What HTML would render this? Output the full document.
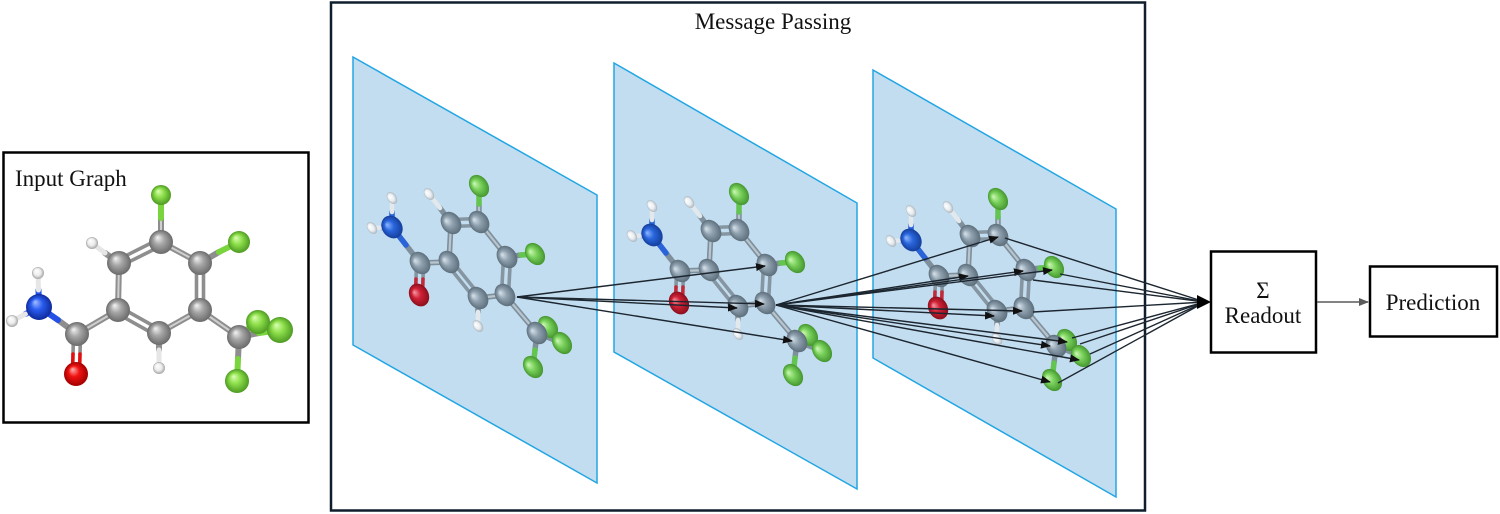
<!DOCTYPE html>
<html><head><meta charset="utf-8"><style>
html,body{margin:0;padding:0;background:#fff;}
svg{display:block;}
text{font-family:"Liberation Serif","Times New Roman",serif;fill:#111;}
</style></head><body>
<svg width="1500" height="514" viewBox="0 0 1500 514" xmlns="http://www.w3.org/2000/svg">
<defs>
<radialGradient id="gC" cx="50%" cy="50%" r="50%" fx="35%" fy="30%"><stop offset="0" stop-color="#f4f4f4"/><stop offset="0.45" stop-color="#a6a6a6"/><stop offset="1" stop-color="#6a6a6a"/></radialGradient>
<radialGradient id="gF" cx="50%" cy="50%" r="50%" fx="35%" fy="30%"><stop offset="0" stop-color="#dcffb8"/><stop offset="0.45" stop-color="#8fe04c"/><stop offset="1" stop-color="#4d9a22"/></radialGradient>
<radialGradient id="gN" cx="50%" cy="50%" r="50%" fx="35%" fy="30%"><stop offset="0" stop-color="#a4c0ff"/><stop offset="0.45" stop-color="#2a5cf0"/><stop offset="1" stop-color="#0e2a9a"/></radialGradient>
<radialGradient id="gO" cx="50%" cy="50%" r="50%" fx="35%" fy="30%"><stop offset="0" stop-color="#ffb4b4"/><stop offset="0.45" stop-color="#f01212"/><stop offset="1" stop-color="#a00000"/></radialGradient>
<radialGradient id="gH" cx="50%" cy="50%" r="50%" fx="35%" fy="30%"><stop offset="0" stop-color="#ffffff"/><stop offset="0.6" stop-color="#ececec"/><stop offset="1" stop-color="#a4a4a4"/></radialGradient>

<radialGradient id="pC" cx="50%" cy="50%" r="50%" fx="35%" fy="30%"><stop offset="0" stop-color="#d8e3eb"/><stop offset="0.45" stop-color="#8fa1af"/><stop offset="1" stop-color="#5d6e7b"/></radialGradient>
<radialGradient id="pF" cx="50%" cy="50%" r="50%" fx="35%" fy="30%"><stop offset="0" stop-color="#cff7b8"/><stop offset="0.45" stop-color="#7ad25c"/><stop offset="1" stop-color="#44962f"/></radialGradient>
<radialGradient id="pN" cx="50%" cy="50%" r="50%" fx="35%" fy="30%"><stop offset="0" stop-color="#8fb8ff"/><stop offset="0.45" stop-color="#2a66dd"/><stop offset="1" stop-color="#143e9a"/></radialGradient>
<radialGradient id="pO" cx="50%" cy="50%" r="50%" fx="35%" fy="30%"><stop offset="0" stop-color="#f59aa5"/><stop offset="0.45" stop-color="#d02035"/><stop offset="1" stop-color="#8a0f1c"/></radialGradient>
<radialGradient id="pH" cx="50%" cy="50%" r="50%" fx="35%" fy="30%"><stop offset="0" stop-color="#ffffff"/><stop offset="0.6" stop-color="#e9eef2"/><stop offset="1" stop-color="#aab4bc"/></radialGradient>

<marker id="ah" markerWidth="10" markerHeight="8" refX="9" refY="4" orient="auto" markerUnits="userSpaceOnUse"><path d="M0,0 L10,4 L0,8 z" fill="#111"/></marker>
<marker id="ahg" markerWidth="10" markerHeight="8" refX="9" refY="4" orient="auto" markerUnits="userSpaceOnUse"><path d="M0,0 L10,4 L0,8 z" fill="#5a5a5a"/></marker>

<g id="aC"><ellipse rx="9.5" ry="12" transform="rotate(-35)" fill="url(#pC)"/></g>
<g id="aF"><ellipse rx="9" ry="12" transform="rotate(-35)" fill="url(#pF)"/></g>
<g id="aN"><ellipse rx="10" ry="12" transform="rotate(-35)" fill="url(#pN)"/></g>
<g id="aO"><ellipse rx="9.5" ry="12" transform="rotate(-30)" fill="url(#pO)"/></g>
<g id="aH"><ellipse rx="4.5" ry="6.5" transform="rotate(-35)" fill="url(#pH)"/></g>

<!-- plane molecule (plane 1 coords) -->
<g id="pm">
  <g stroke-linecap="round" fill="none">
    <g stroke="#7f909c" stroke-width="5.5">
      <line x1="479" y1="222" x2="479" y2="204"/>
      <line x1="451" y1="223" x2="440" y2="208"/>
      <line x1="451" y1="223" x2="449" y2="262"/>
      <line x1="479" y1="222" x2="507" y2="257"/>
      <line x1="507" y1="257" x2="521" y2="255"/>
      <line x1="505" y1="295" x2="478" y2="298"/>
      <line x1="478" y1="298" x2="478" y2="312"/>
      <line x1="449" y1="262" x2="420" y2="263"/>
      <line x1="420" y1="263" x2="406" y2="245"/>
      <line x1="505" y1="295" x2="537" y2="333"/>
      <line x1="537" y1="333" x2="548" y2="327"/>
      <line x1="537" y1="333" x2="562" y2="343"/>
      <line x1="537" y1="333" x2="535" y2="350"/>
    </g>
    <g stroke="#b8c5cf" stroke-width="2.2">
      <line x1="479" y1="222" x2="479" y2="204"/>
      <line x1="451" y1="223" x2="449" y2="262"/>
      <line x1="479" y1="222" x2="507" y2="257"/>
      <line x1="505" y1="295" x2="478" y2="298"/>
      <line x1="449" y1="262" x2="420" y2="263"/>
      <line x1="505" y1="295" x2="537" y2="333"/>
    </g>
    <g stroke="#8595a1" stroke-width="3.6">
      <line x1="479" y1="218.5" x2="451" y2="219.5"/>
      <line x1="479" y1="225.5" x2="451" y2="226.5"/>
      <line x1="503.5" y1="257" x2="501.5" y2="295"/>
      <line x1="510.5" y1="257" x2="508.5" y2="295"/>
      <line x1="446.7" y1="263.9" x2="475.7" y2="299.9"/>
      <line x1="451.3" y1="260.1" x2="480.3" y2="296.1"/>
      <line x1="416.5" y1="263" x2="416" y2="279"/>
      <line x1="423.5" y1="263" x2="423" y2="279"/>
    </g>
    <g stroke="#c22a3a" stroke-width="3.6">
      <line x1="416" y1="279" x2="415.5" y2="295"/>
      <line x1="423" y1="279" x2="422.5" y2="295"/>
    </g>
    <g stroke="#64c450" stroke-width="5.5">
      <line x1="479" y1="204" x2="479" y2="186"/>
      <line x1="521" y1="255" x2="535" y2="254"/>
      <line x1="535" y1="350" x2="533" y2="367"/>
    </g>
    <g stroke="#2a62d8" stroke-width="5.5">
      <line x1="406" y1="245" x2="392" y2="227"/>
      <line x1="392" y1="227" x2="392" y2="212"/>
      <line x1="392" y1="227" x2="382" y2="227.5"/>
    </g>
    <g stroke="#e2e8ec" stroke-width="4.5">
      <line x1="440" y1="208" x2="429" y2="194"/>
      <line x1="478" y1="312" x2="478" y2="326"/>
      <line x1="392" y1="212" x2="392" y2="198"/>
      <line x1="382" y1="227.5" x2="372" y2="228"/>
    </g>
  </g>
  <use href="#aF" x="479" y="186"/>
  <use href="#aH" x="429" y="194"/>
  <use href="#aH" x="392" y="198"/>
  <use href="#aH" x="372" y="228"/>
  <use href="#aH" x="478" y="326"/>
  <use href="#aC" x="479" y="222"/>
  <use href="#aC" x="451" y="223"/>
  <use href="#aC" x="507" y="257"/>
  <use href="#aF" x="535" y="254"/>
  <use href="#aC" x="449" y="262"/>
  <use href="#aC" x="420" y="263"/>
  <use href="#aN" x="392" y="227"/>
  <use href="#aO" x="419" y="295"/>
  <use href="#aC" x="478" y="298"/>
  <use href="#aC" x="505" y="295"/>
  <use href="#aF" x="548" y="327"/>
  <use href="#aC" x="537" y="333"/>
  <use href="#aF" x="562" y="343"/>
  <use href="#aF" x="533" y="367"/>
</g>
</defs>

<!-- Input Graph box -->
<rect x="3.5" y="152.5" width="305" height="270" fill="#fff" stroke="#000" stroke-width="2.5"/>
<text x="15" y="186" font-size="23" font-family="Liberation Serif, serif">Input Graph</text>

<!-- input molecule bonds -->
<g stroke-linecap="round" fill="none">
  <g stroke="#8e8e8e" stroke-width="6">
    <line x1="161" y1="242" x2="161" y2="218"/>
    <line x1="119" y1="263" x2="105" y2="253"/>
    <line x1="119" y1="263" x2="118" y2="310"/>
    <line x1="161" y1="242" x2="200" y2="263"/>
    <line x1="200" y1="263" x2="219" y2="252"/>
    <line x1="200" y1="310" x2="159" y2="333"/>
    <line x1="159" y1="333" x2="159" y2="350"/>
    <line x1="118" y1="310" x2="77" y2="334"/>
    <line x1="77" y1="334" x2="58" y2="320"/>
    <line x1="200" y1="310" x2="239" y2="337"/>
    <line x1="239" y1="337" x2="248" y2="329"/>
    <line x1="239" y1="337" x2="259" y2="333"/>
    <line x1="239" y1="337" x2="238" y2="359"/>
  </g>
  <g stroke="#cfcfcf" stroke-width="2">
    <line x1="161" y1="242" x2="161" y2="218"/>
    <line x1="119" y1="263" x2="118" y2="310"/>
    <line x1="161" y1="242" x2="200" y2="263"/>
    <line x1="200" y1="310" x2="159" y2="333"/>
    <line x1="118" y1="310" x2="77" y2="334"/>
    <line x1="200" y1="310" x2="239" y2="337"/>
  </g>
  <g stroke="#8e8e8e" stroke-width="3.6">
    <line x1="162.6" y1="245.1" x2="120.6" y2="266.1"/>
    <line x1="159.4" y1="238.9" x2="117.4" y2="259.9"/>
    <line x1="196.5" y1="263" x2="196.5" y2="310"/>
    <line x1="203.5" y1="263" x2="203.5" y2="310"/>
    <line x1="116.3" y1="313" x2="157.3" y2="336"/>
    <line x1="119.7" y1="307" x2="160.7" y2="330"/>
    <line x1="73.5" y1="334" x2="73" y2="354"/>
    <line x1="80.5" y1="334" x2="80" y2="354"/>
  </g>
  <g stroke="#e01010" stroke-width="3.6">
    <line x1="73" y1="354" x2="72.5" y2="374"/>
    <line x1="80" y1="354" x2="79.5" y2="374"/>
  </g>
  <g stroke="#7ad43e" stroke-width="6">
    <line x1="161" y1="218" x2="161" y2="195"/>
    <line x1="219" y1="252" x2="239" y2="242"/>
    <line x1="248" y1="329" x2="258" y2="322"/>
    <line x1="259" y1="333" x2="280" y2="330"/>
    <line x1="238" y1="359" x2="237" y2="381"/>
  </g>
  <g stroke="#2550e8" stroke-width="6">
    <line x1="58" y1="320" x2="39" y2="307"/>
    <line x1="39" y1="307" x2="38.5" y2="290"/>
    <line x1="39" y1="307" x2="25.5" y2="314"/>
  </g>
  <g stroke="#e6e6e6" stroke-width="5">
    <line x1="105" y1="253" x2="92" y2="243"/>
    <line x1="159" y1="350" x2="159" y2="368"/>
    <line x1="38.5" y1="290" x2="38" y2="273"/>
    <line x1="25.5" y1="314" x2="12" y2="321"/>
  </g>
</g>
<!-- input atoms -->
<circle cx="258" cy="322" r="12" fill="url(#gF)"/>
<circle cx="161" cy="195" r="10" fill="url(#gF)"/>
<circle cx="92" cy="243" r="6" fill="url(#gH)"/>
<circle cx="38" cy="273" r="6" fill="url(#gH)"/>
<circle cx="12" cy="321" r="6" fill="url(#gH)"/>
<circle cx="159" cy="368" r="6" fill="url(#gH)"/>
<circle cx="161" cy="242" r="12" fill="url(#gC)"/>
<circle cx="119" cy="263" r="12" fill="url(#gC)"/>
<circle cx="200" cy="263" r="12" fill="url(#gC)"/>
<circle cx="239" cy="242" r="11" fill="url(#gF)"/>
<circle cx="118" cy="310" r="12" fill="url(#gC)"/>
<circle cx="200" cy="310" r="12" fill="url(#gC)"/>
<circle cx="159" cy="333" r="12" fill="url(#gC)"/>
<circle cx="77" cy="334" r="12" fill="url(#gC)"/>
<circle cx="39" cy="307" r="13" fill="url(#gN)"/>
<circle cx="76" cy="374" r="12" fill="url(#gO)"/>
<circle cx="239" cy="337" r="12" fill="url(#gC)"/>
<circle cx="280" cy="330" r="13" fill="url(#gF)"/>
<circle cx="237" cy="381" r="12" fill="url(#gF)"/>

<!-- Message Passing box -->
<rect x="331" y="2.5" width="814" height="508" fill="#fff" stroke="#0f1e2c" stroke-width="2.5"/>
<text x="773" y="29" font-size="23" text-anchor="middle" font-family="Liberation Serif, serif">Message Passing</text>

<!-- planes + molecules -->
<polygon points="353,57 597,195 597,483 353,345" fill="#c3ddf0" stroke="#22a6e3" stroke-width="1.5"/>
<use href="#pm"/>
<polygon points="614,63 857,203 857,489 614,352" fill="#c3ddf0" stroke="#22a6e3" stroke-width="1.5"/>
<use href="#pm" transform="translate(260,8)"/>
<polygon points="873,70 1116,209 1116,497 873,358" fill="#c3ddf0" stroke="#22a6e3" stroke-width="1.5"/>
<use href="#pm" transform="translate(519,13)"/>

<!-- arrows plane1 -> plane2 -->
<g stroke="#1c2630" stroke-width="1.4" fill="none" marker-end="url(#ah)">
  <line x1="517" y1="297" x2="765" y2="266"/>
  <line x1="517" y1="297" x2="737" y2="308"/>
  <line x1="517" y1="297" x2="764" y2="304"/>
  <line x1="517" y1="297" x2="792" y2="341"/>
</g>
<!-- arrows plane2 -> plane3 -->
<g stroke="#1c2630" stroke-width="1.4" fill="none" marker-end="url(#ah)">
  <line x1="776" y1="305" x2="998" y2="237"/>
  <line x1="776" y1="305" x2="968" y2="276"/>
  <line x1="776" y1="305" x2="1023" y2="271"/>
  <line x1="776" y1="305" x2="1052" y2="270"/>
  <line x1="776" y1="305" x2="994" y2="316"/>
  <line x1="776" y1="305" x2="1022" y2="311"/>
  <line x1="776" y1="305" x2="1050" y2="346"/>
  <line x1="776" y1="305" x2="1067" y2="342"/>
  <line x1="776" y1="305" x2="1079" y2="360"/>
  <line x1="776" y1="305" x2="1050" y2="382"/>
</g>
<!-- arrows plane3 -> readout -->
<g stroke="#1c2630" stroke-width="1.4" fill="none">
  <line x1="1005" y1="238" x2="1205" y2="302"/>
  <line x1="1060" y1="274" x2="1205" y2="302"/>
  <line x1="1033" y1="280" x2="1205" y2="302"/>
  <line x1="1033" y1="312" x2="1205" y2="302"/>
  <line x1="1072" y1="338" x2="1205" y2="302"/>
  <line x1="1080" y1="344" x2="1205" y2="302"/>
  <line x1="1090" y1="354" x2="1205" y2="302"/>
  <line x1="1058" y1="383" x2="1205" y2="302"/>
</g>
<polygon points="1197,295 1211,302 1197,309" fill="#000"/>

<!-- Readout -->
<rect x="1211" y="251.5" width="105" height="101" fill="#fff" stroke="#000" stroke-width="2.5"/>
<text x="1263" y="298" font-size="23" text-anchor="middle" font-family="Liberation Serif, serif">Σ</text>
<text x="1263" y="323" font-size="23" text-anchor="middle" font-family="Liberation Serif, serif">Readout</text>

<line x1="1317" y1="302" x2="1368" y2="302" stroke="#5a5a5a" stroke-width="1.6" marker-end="url(#ahg)"/>

<!-- Prediction -->
<rect x="1370" y="266.5" width="127" height="70" fill="#fff" stroke="#000" stroke-width="2.5"/>
<text x="1433" y="310" font-size="23" text-anchor="middle" font-family="Liberation Serif, serif">Prediction</text>
</svg>
</body></html>
